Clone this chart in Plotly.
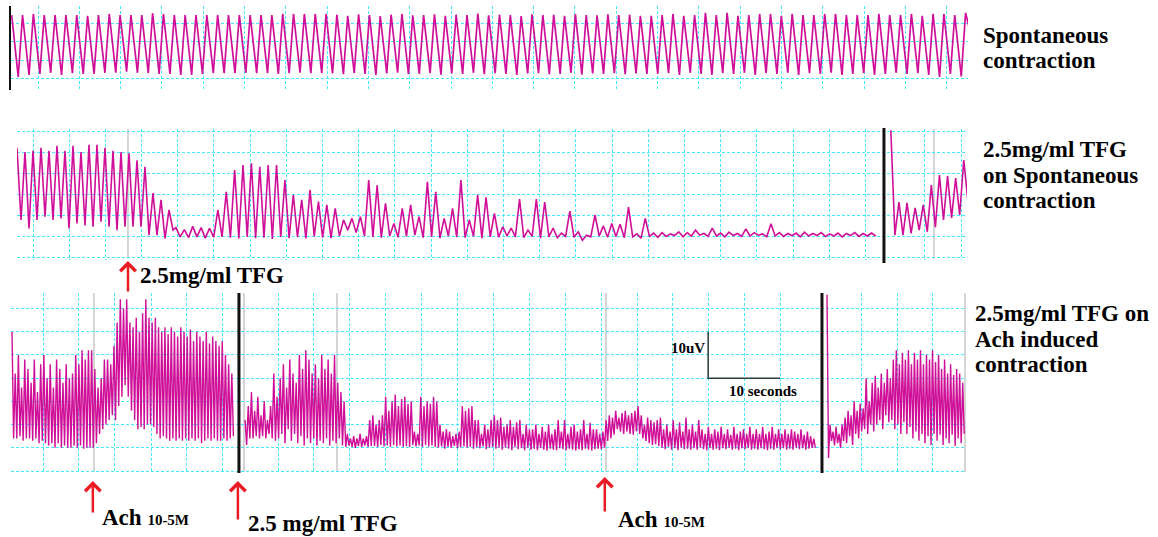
import plotly.graph_objects as go

W, H = 1158, 537
FONT = "Times New Roman, Liberation Serif, serif"
TRACE = "#cf0f98"
GRID = "rgb(70,232,255)"

# ---------------- Panel 1: spontaneous contraction (peak / trough per cycle) -------------
p1_peaks = [17.2, 17.2, 17.5, 17.2, 17.2, 17.2, 17.2, 17.0, 17.2, 17.5,
            17.2, 17.2, 17.2, 17.7, 17.5, 17.2, 17.2, 17.2, 17.2, 17.2,
            17.2, 17.2, 17.2, 17.2, 17.2, 17.5, 17.5, 17.5, 17.5, 17.5,
            17.3, 17.0, 17.4, 17.2, 16.9, 17.3, 17.5, 17.1, 17.2, 17.4,
            17.0, 17.3, 17.2, 17.6, 17.1, 17.3, 17.2, 16.9, 17.4, 17.2,
            17.3, 17.0, 17.5, 17.2, 17.1, 17.4, 17.2, 17.3, 17.0,
            17.0, 17.2, 17.5, 17.0, 17.2, 17.8, 17.2, 17.8, 17.0, 17.2,
            17.5, 17.5, 17.0, 17.5, 17.2, 17.2, 17.5, 17.5, 17.2, 17.2,
            17.2, 17.5, 17.2, 17.2, 17.5, 17.0, 17.5, 17.5, 17.2, 17.8]
p1_troughs = [0.5, 1.0, 1.3, 1.6, 1.0, 1.5, 1.3, 1.3, 1.6, 1.6,
              1.9, 1.6, 1.5, 1.3, 1.3, 1.0, 1.0, 1.3, 1.5, 1.5,
              1.5, 1.6, 1.5, 1.5, 1.3, 1.5, 1.6, 1.5, 1.5, 1.4,
              1.2, 1.5, 1.3, 1.0, 1.4, 1.6, 1.2, 1.3, 1.5, 1.1,
              1.4, 1.3, 1.6, 1.2, 1.5, 1.3, 1.0, 1.4, 1.5, 1.2,
              1.3, 1.6, 1.1, 1.4, 1.3, 1.5, 1.2, 1.4, 1.3,
              1.3, 1.5, 1.0, 1.6, 1.3, 1.0, 1.5, 1.3, 1.6, 1.0,
              1.5, 1.3, 1.6, 1.0, 1.5, 1.3, 1.6, 1.0, 1.3, 1.5,
              1.0, 1.3, 1.6, 1.3, 1.5, 1.0, 0.5, 1.3, 0.6, 10.5]
p1_t0, p1_period = 0.085, 1.3123
p1_grid_x = [3.27 + 5 * k for k in range(23)]
p1_grid_y = [0, 5, 10, 15]

# ---------------- Panel 2: 2.5mg/ml TFG on spontaneous contraction ----------------------
p2a_peaks = [26, 25, 25.3, 26, 25.3, 26.5, 25.3, 26.5, 25, 26.7,
             26.7, 26, 25.3, 25, 24.7, 23, 21.5, 15.2, 13.6, 11.2]
p2a_troughs = [8.8, 6.8, 8.8, 9.6, 8.8, 9.2, 6.8, 8, 7.5, 7.2,
               8.4, 7.2, 6.4, 7.2, 7.2, 7.2, 5.2, 5.2, 4.4, 6.4]
p2b_peaks = [7, 6.5, 7.3, 7, 6.8,
             11.2, 15.5, 20.7, 21.9, 22.3, 21.5, 21.9, 21.9, 18.3, 14.8,
             13.6, 16, 13.2, 12.4, 11.6,
             8.8, 9.2, 9.6, 18.3, 17.1, 12.8, 8, 11.6, 12.4, 9.6,
             17.9, 15.5, 9.2, 11.6, 18.3, 8.8, 14.8, 14.2, 10.4, 7.2,
             6.9, 13.8, 6.4, 13.8, 13.1, 6.9, 5.7, 10.9, 6, 5.2,
             10, 7.4, 8, 7.8, 11.9, 5.5, 9.2, 5.7,
             5.8, 5.5, 6, 5.8, 6.4, 5.6, 6.9, 5.7, 5.9, 5.6,
             6.7, 5.8, 5.5, 7.9, 5.8, 5.6, 5.7, 5.9, 5.6, 5.8,
             5.5, 5.7, 5.6, 5.8, 5.6, 5.7]
p2b_troughs = [4.8, 4.6, 4.8, 4.5, 4.7,
               4.8, 4.6, 4.4, 4.8, 4.5, 4.6, 4.3, 4.8, 4.5, 4.7,
               4.4, 4.9, 4.6, 4.5, 5.0,
               6.4, 5.8, 5.0, 4.8, 4.6, 5.0, 4.7, 4.9, 5.2, 4.6,
               4.8, 4.5, 5.0, 4.7, 4.6, 4.9, 4.5, 4.8, 4.7, 5.0,
               4.8, 4.6, 4.9, 4.5, 4.8, 4.6, 4.9, 4.7, 4.0, 4.8,
               5.0, 4.7, 4.9, 4.6, 4.8, 4.5, 4.9, 4.7,
               4.9, 5.1, 4.8, 5.0, 5.2, 4.9, 5.0, 4.8, 5.1, 4.9,
               5.0, 5.2, 4.8, 5.0, 4.9, 5.1, 4.8, 5.0, 5.1, 4.9,
               5.0, 4.8, 5.1, 4.9, 5.0, 5.0]
p2c_peaks = [30.2, 13.1, 12.9, 11.7, 12.4, 17.1, 19.5, 19.3, 18.8, 23.1]
p2c_troughs = [5.2, 5.2, 5.6, 6.4, 6.0, 7.1, 8.8, 9.3, 10.0, 13.6]
p2_t0 = [0.0, 21.96, 120.7]
p2_period = [1.105, 1.1575, 1.119]
p2_black = [119.75]
p2_gray = [15.33, 126.66]
p2_grid_x = [2.21 + 5 * k for k in range(24)] + [125.4, 130.5]
p2_grid_y = [0, 5, 10, 15, 20, 25, 30]

# ---------------- Panel 3: 2.5mg/ml TFG on Ach induced contraction (uV) ---------------
p3a_peaks = [30, 21, 25, 18, 24, 22, 19, 24, 17, 23,
             25, 20, 23, 18, 24, 22, 19, 23, 20, 21,
             25, 23, 26, 24, 26,
             26, 22, 18, 20, 24, 24, 23, 27, 32, 37,
             35, 37, 32, 31, 33, 30, 34, 37, 33, 32,
             33, 31, 30, 31, 29.5, 31, 30, 29, 31, 30,
             29, 30.5, 28, 30, 29, 28, 30, 27.5, 29, 28,
             27, 28, 25, 23, 21]
p3a_troughs = [7, 7, 7.5, 6.5, 7, 7, 6.5, 7, 6, 6.5,
               6, 5.5, 6, 5, 6, 5, 5.5, 5, 5, 5.5,
               5, 5.5, 4.8, 5, 5,
               5, 6, 8, 9, 10, 11, 12, 11, 14, 16,
               18.5, 16, 13, 11, 9, 9.5, 9, 10, 10, 9.5,
               8, 7, 7.5, 7, 6.5, 7, 6.5, 7, 6.5, 7,
               6.5, 7, 6.5, 7, 6, 6.5, 7, 6.5, 7, 6.5,
               6.5, 7, 6.5, 7, 7.5]
p3b_peaks = [11, 14, 17, 13, 16, 12, 15, 11, 14, 21,
             16, 20, 23, 18, 24, 21, 19, 25, 22, 26,
             24, 21, 23, 20, 25, 22, 24, 21, 25, 19,
             17, 15, 8, 7, 7.5, 7, 8, 7, 7.5, 11,
             12, 10, 11, 12, 16, 13, 15, 16.5, 14, 15.5,
             16, 14.5, 15, 8.5, 8, 16, 14, 15, 14.5, 16,
             15, 10, 8.5, 9, 8.5, 7.5, 8, 8.5, 14, 13,
             13.5, 14, 11, 11, 8, 10, 9, 11, 12, 11,
             11.5, 9.5, 10, 11, 9.5, 10.5, 11, 8, 10, 9,
             9, 10, 8, 9.5, 8.5, 10, 8, 9, 11, 8.5,
             11, 8, 9.5, 10, 8.5, 9, 11, 8, 10.4, 9,
             9, 8, 8.5, 11, 12, 11.5, 13, 11.5, 12.5, 13,
             12, 12.5, 13, 14, 12, 10, 11.5, 11, 10.5, 11,
             11.5, 9, 10, 8.5, 11, 9, 10.5, 8.5, 11.5, 9,
             10, 8.5, 11, 9, 8, 9.5, 8, 9, 8.5, 9.5,
             8, 9, 7.8, 9.5, 8, 8.5, 9, 8, 9.5, 8,
             9, 8, 9.5, 8, 8.5, 9.5, 8, 9, 8, 9,
             8, 9, 8.5, 8, 9, 7.8, 8.5, 7.5, 7]
p3b_troughs = [5.6, 7, 7, 7.5, 7, 7.5, 7, 8, 7, 6.5,
               7, 8, 6, 9, 6.5, 8, 6, 7.5, 5.5, 7,
               6, 7, 5.5, 6.5, 6, 7, 5.5, 6.5, 6, 7,
               5.5, 5.2, 5.5, 5.2, 5, 5.4, 5.2, 5.5, 5.2, 5.4,
               5.4, 5.2, 5.6, 5.3, 5.5, 5.2, 5.6, 5.3, 5.5, 5.2,
               5.4, 5.2, 5.6, 5.3, 5.5, 5.2, 5.6, 5.3, 5.5, 5.2,
               5, 5.3, 4.8, 5.2, 5, 5.4, 4.9, 5.1, 5.3, 5,
               5.2, 4.8, 5.1, 4.9, 5.3, 4.7, 5, 5.2, 4.8, 5,
               4.6, 5, 4.8, 4.5, 5.1, 4.7, 4.9, 4.5, 5, 4.6,
               4.8, 4.5, 4.9, 4.6, 4.4, 4.8, 4.6, 4.5, 4.9, 4.7,
               4.5, 4.8, 4.6, 4.4, 4.7, 4.5, 4.8, 4.6, 4.4, 4.7,
               4.8, 4.7, 5, 6.5, 7, 7.8, 9, 8.5, 8, 8.5,
               8, 7.8, 8.5, 8, 7, 6.5, 6, 5.6, 5.8, 5.4,
               5, 4.7, 5.2, 4.6, 4.9, 4.5, 5, 4.7, 4.8, 4.6,
               4.9, 4.6, 5, 4.7, 4.5, 4.9, 4.6, 4.8, 4.5, 4.9,
               4.7, 5, 4.6, 4.8, 4.5, 4.9, 4.7, 5, 4.6, 4.8,
               4.6, 4.9, 4.7, 4.5, 4.8, 4.6, 5, 4.7, 4.9, 4.6,
               4.8, 4.6, 5, 4.7, 4.9, 4.6, 4.8, 5, 5]
p3c_peaks = [38,
             10, 8.5, 9.5, 8, 10, 11.5, 13, 12, 15, 13,
             14.5, 13.5, 20, 15, 19, 20.5, 18, 21, 19, 22,
             20, 24, 26, 23, 25.5, 24, 26, 23, 25.5, 24,
             26, 23, 25, 24, 26, 23.5, 25, 22, 24, 21,
             23, 20.7, 22, 21, 19]
p3c_troughs = [2.8,
               6.5, 5.5, 6, 5, 6.5, 6, 7.5, 5.6, 8, 7,
               8.5, 9, 8, 10, 8.5, 10, 11, 9, 12, 10.5,
               11, 9, 10, 8, 10.5, 8, 9.5, 7, 8.5, 6.5,
               8, 6, 7.5, 5.6, 8, 6.5, 7.8, 5.6, 7, 6,
               7.8, 5.4, 7, 6, 8]
p3_t0 = [0.14, 32.6, 113.65]
p3_period = [0.4437, 0.445, 0.42]
p3_black = [31.75, 112.95]
p3_gray = [11.56, 32.45, 45.4, 82.87, 132.87]
p3_grid_x = [4.46, 9.47, 14.48, 19.5, 24.5, 29.5] + [37.19 + 5 * k for k in range(15)] + [118.5, 123.5, 128.4]
p3_grid_y = [0, 5, 10, 15, 20, 25, 30, 35]
scale_t = [97.1, 97.1, 107.1]
scale_uv = [30, 20, 20]


def build(t0, period, peaks, troughs, phase=0.5):
    xs, ys = [], []
    for i, (p, q) in enumerate(zip(peaks, troughs)):
        xs += [t0 + i * period, t0 + (i + phase) * period]
        ys += [p, q]
    return xs, ys


fig = go.Figure()
line = dict(color=TRACE, width=1.4)

x, y = build(p1_t0, p1_period, p1_peaks, p1_troughs, 0.6)
fig.add_trace(go.Scatter(x=x, y=y, mode="lines", line=dict(color=TRACE, width=1.7),
                         xaxis="x", yaxis="y"))

xa, ya = build(p2_t0[0], p2_period[0], p2a_peaks, p2a_troughs)
xb, yb = build(p2_t0[1], p2_period[1], p2b_peaks, p2b_troughs)
fig.add_trace(go.Scatter(x=xa + xb, y=ya + yb, mode="lines", line=dict(color=TRACE, width=1.6),
                         xaxis="x2", yaxis="y2"))
xc, yc = build(p2_t0[2], p2_period[2], p2c_peaks, p2c_troughs)
fig.add_trace(go.Scatter(x=xc, y=yc, mode="lines", line=dict(color=TRACE, width=1.6),
                         xaxis="x2", yaxis="y2"))

for seg in range(3):
    pk = [p3a_peaks, p3b_peaks, p3c_peaks][seg]
    tr = [p3a_troughs, p3b_troughs, p3c_troughs][seg]
    x, y = build(p3_t0[seg], p3_period[seg], pk, tr)
    fig.add_trace(go.Scatter(x=x, y=y, mode="lines", line=line, xaxis="x3", yaxis="y3"))

fig.add_trace(go.Scatter(x=scale_t, y=scale_uv, mode="lines",
                         line=dict(color="#2d3b3b", width=1.5), xaxis="x3", yaxis="y3"))

shapes = []
for t in p2_gray:
    shapes.append(dict(type="line", xref="x2", yref="y2 domain", x0=t, x1=t, y0=0.01, y1=1.0,
                       line=dict(color="#c8c8c8", width=1.5), layer="below"))
for t in p3_gray:
    shapes.append(dict(type="line", xref="x3", yref="y3 domain", x0=t, x1=t, y0=0.005, y1=1.0,
                       line=dict(color="#c8c8c8", width=1.5), layer="below"))
for t in p2_black:
    shapes.append(dict(type="line", xref="x2", yref="y2 domain", x0=t, x1=t, y0=-0.023, y1=1.008,
                       line=dict(color="#111111", width=3)))
for t in p3_black:
    shapes.append(dict(type="line", xref="x3", yref="y3 domain", x0=t, x1=t, y0=0, y1=1,
                       line=dict(color="#111111", width=3)))


def label(text, x_px, base_px, size=23, anchor="left"):
    return dict(text=text, x=x_px / W, y=1 - (base_px - 0.3375 * size) / H,
                xref="paper", yref="paper", xanchor=anchor, yanchor="middle",
                showarrow=False, borderpad=0, borderwidth=0,
                font=dict(family=FONT, size=size, color="black"))


def arrow(xref, t, tip_px, tail_px):
    return dict(x=t, xref=xref, y=1 - tip_px / H, yref="paper", ax=0, ay=tail_px - tip_px,
                axref="pixel", ayref="pixel", text="", showarrow=True, arrowhead=4,
                arrowsize=1.2, arrowwidth=2.5, arrowcolor="#ec1c24")


small = "<span style='font-size:15px'>10-5M</span>"
annotations = [
    label("<b>Spontaneous</b>", 983, 43),
    label("<b>contraction</b>", 983, 68),
    label("<b>2.5mg/ml TFG</b>", 983, 157),
    label("<b>on Spontaneous</b>", 983, 183),
    label("<b>contraction</b>", 983, 208),
    label("<b>2.5mg/ml TFG on</b>", 975, 321),
    label("<b>Ach induced</b>", 975, 347.7),
    label("<b>contraction</b>", 975, 372.3),
    label("<b>2.5mg/ml TFG</b>", 140, 283),
    label("<b>Ach " + small + "</b>", 102, 525.7),
    label("<b>2.5 mg/ml TFG</b>", 248, 531.7),
    label("<b>Ach " + small + "</b>", 618, 527),
    label("<b>10uV</b>", 705, 353, size=15, anchor="right"),
    label("<b>10 seconds</b>", 762.5, 396, size=15, anchor="center"),
    arrow("x2", p2_gray[0], 261, 293),
    arrow("x3", 11.4, 481, 514),
    arrow("x3", 31.6, 481, 521),
    arrow("x3", 82.7, 477, 513),
]


def xax(l, r, rng, grid):
    return dict(domain=[l / W, r / W], range=rng, tickvals=grid, showticklabels=False, ticks="",
                showgrid=True, gridcolor=GRID, gridwidth=1, griddash="3px,2px",
                zeroline=False, showline=False, fixedrange=True)


def yax(top, bot, rng, grid, anchor, line=False):
    return dict(domain=[1 - bot / H, 1 - top / H], range=rng, tickvals=grid, showticklabels=False,
                ticks="", showgrid=True, gridcolor=GRID, gridwidth=1, griddash="3px,2px",
                zeroline=False, showline=line, linecolor="#111111", linewidth=2,
                anchor=anchor, fixedrange=True)


fig.update_layout(
    width=W, height=H, margin=dict(l=0, r=0, t=0, b=0),
    paper_bgcolor="white", plot_bgcolor="white", showlegend=False, hovermode=False,
    xaxis=xax(11, 968, [0, 115.86], p1_grid_x) | dict(anchor="y"),
    yaxis=yax(6, 89.5, [-2.92, 19.65], p1_grid_y, "x", line=True),
    xaxis2=xax(17, 967, [0, 131.22], p2_grid_x) | dict(anchor="y2"),
    yaxis2=yax(129, 260, [-0.714, 30.48], p2_grid_y, "x2"),
    xaxis3=xax(11, 966, [0, 133.01], p3_grid_x) | dict(anchor="y3"),
    yaxis3=yax(293, 473, [-0.431, 38.36], p3_grid_y, "x3"),
    shapes=shapes, annotations=annotations,
)

fig.write_html("out.html", config={"displayModeBar": False},
               post_script="document.body.style.margin='0';document.body.style.overflow='hidden';")
